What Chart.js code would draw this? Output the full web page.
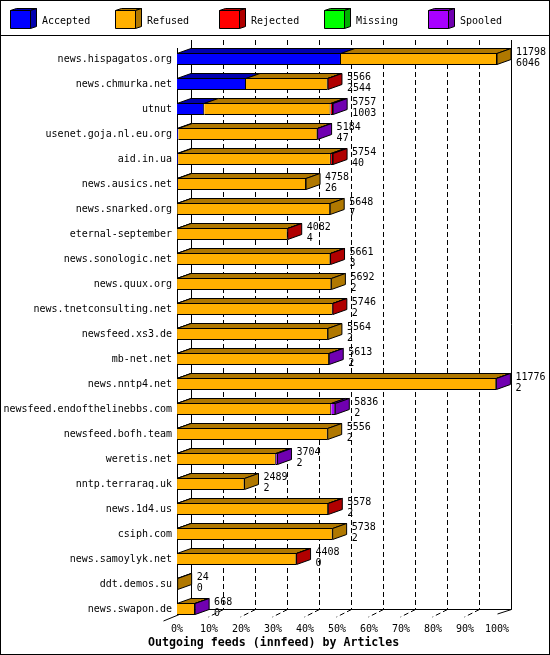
<!DOCTYPE html>
<html><head><meta charset="utf-8">
<script src="https://cdn.jsdelivr.net/npm/chart.js@4.4.1/dist/chart.umd.min.js"></script>
<style>html,body{margin:0;padding:0;background:#fff;} #wrap{width:550px;height:655px;position:relative;}</style>
</head><body><div id="wrap"><canvas id="c"></canvas></div>
<script>
const categories = ['news.hispagatos.org','news.chmurka.net','utnut','usenet.goja.nl.eu.org','aid.in.ua','news.ausics.net','news.snarked.org','eternal-september','news.sonologic.net','news.quux.org','news.tnetconsulting.net','newsfeed.xs3.de','mb-net.net','news.nntp4.net','newsfeed.endofthelinebbs.com','newsfeed.bofh.team','weretis.net','nntp.terraraq.uk','news.1d4.us','csiph.com','news.samoylyk.net','ddt.demos.su','news.swapon.de'];
const accepted = [6046,2544,1003,47,40,26,7,4,3,2,2,2,2,2,2,2,2,2,2,2,0,0,0];
const refused  = [5752,3012,4659,5132,5634,4732,5641,4073,5653,5690,5739,5562,5606,11769,5684,5554,3642,2487,5571,5736,4403,24,663];
const rejected = [0,10,90,0,80,0,0,5,5,0,5,0,0,0,0,0,0,0,5,0,5,0,0];
const missing  = [0,0,0,0,0,0,0,0,0,0,0,0,0,0,0,0,0,0,0,0,0,0,0];
const spooled  = [0,0,5,5,0,0,0,0,0,0,0,0,5,5,150,0,60,0,0,0,0,0,5];
const seriesNames = ['Accepted','Refused','Rejected','Missing','Spooled'];
const xTickPercents = [0,10,20,30,40,50,60,70,80,90,100];
const chartTitle = 'Outgoing feeds (innfeed) by Articles';

const frontColors = ['#0000ff','#ffb000','#ff0000','#00ff00','#a800ff'];
const sideColors  = ['#0000b0','#b07800','#b00000','#00b000','#7000b0'];
const seriesData = [accepted, refused, rejected, missing, spooled];
const totals = categories.map((_, i) => seriesData.reduce((s, a) => s + a[i], 0));
const maxTotal = Math.max(...totals);

const FONT = '10px "DejaVu Sans Mono", monospace';
const DX = 14, DY = 5;

function poly(ctx, pts, fill) {
  ctx.beginPath();
  ctx.moveTo(pts[0][0], pts[0][1]);
  for (let k = 1; k < pts.length; k++) ctx.lineTo(pts[k][0], pts[k][1]);
  ctx.closePath();
  if (fill) { ctx.fillStyle = fill; ctx.fill(); }
  ctx.strokeStyle = '#000'; ctx.lineWidth = 1; ctx.stroke();
}

const threeD = {
  id: 'threeD',
  beforeDraw(chart) {
    const ctx = chart.ctx, xs = chart.scales.x, ca = chart.chartArea;
    ctx.save();
    ctx.fillStyle = '#fff'; ctx.fillRect(0, 0, chart.width, chart.height);
    ctx.strokeStyle = '#000'; ctx.lineWidth = 1;
    ctx.strokeRect(0.5, 0.5, chart.width - 1, chart.height - 1);
    ctx.beginPath(); ctx.moveTo(0, 35.5); ctx.lineTo(chart.width, 35.5); ctx.stroke();
    // legend
    ctx.font = FONT; ctx.textBaseline = 'alphabetic'; ctx.textAlign = 'left';
    seriesNames.forEach((name, i) => {
      const x0 = Math.round(10 + 104.5 * i) + 0.5, y0 = 10.5, w = 20, h = 18, dx = 6, dy = 2;
      poly(ctx, [[x0, y0], [x0 + dx, y0 - dy], [x0 + w + dx, y0 - dy], [x0 + w, y0]], sideColors[i]);
      poly(ctx, [[x0 + w, y0], [x0 + w + dx, y0 - dy], [x0 + w + dx, y0 + h - dy], [x0 + w, y0 + h]], sideColors[i]);
      poly(ctx, [[x0, y0], [x0 + w, y0], [x0 + w, y0 + h], [x0, y0 + h]], frontColors[i]);
      ctx.fillStyle = '#000';
      ctx.fillText(name, x0 + 31.5, 24);
    });
    // back wall & floor
    const top = 40, floorBack = 609.5, floorFront = 615;
    xTickPercents.forEach((p, k) => {
      const fx = Math.round(xs.getPixelForValue(p / 100 * maxTotal)) + 0.5;
      const bx = fx + DX;
      ctx.strokeStyle = '#000';
      if (k === 0 || k === xTickPercents.length - 1) {
        ctx.setLineDash([]);
      } else {
        ctx.setLineDash([5, 3]);
      }
      ctx.beginPath(); ctx.moveTo(bx, top); ctx.lineTo(bx, floorBack); ctx.stroke();
      if (k > 0 && k < xTickPercents.length - 1) {
        ctx.beginPath(); ctx.moveTo(bx, floorBack); ctx.lineTo(fx - 1, floorFront + 2); ctx.stroke();
      }
    });
    ctx.setLineDash([]);
    const lx = Math.round(ca.left) + 0.5;
    const rx = Math.round(xs.getPixelForValue(maxTotal)) + 0.5;
    ctx.beginPath();
    ctx.moveTo(lx, 48); ctx.lineTo(lx, floorFront);
    ctx.moveTo(lx + DX, floorBack); ctx.lineTo(rx + DX, floorBack);
    ctx.lineTo(rx, floorFront - 1);
    ctx.moveTo(lx + DX, floorBack); ctx.lineTo(lx - DX, floorFront + 6);
    ctx.stroke();
    ctx.restore();
  },
  afterDatasetsDraw(chart) {
    const ctx = chart.ctx;
    ctx.save();
    ctx.font = FONT; ctx.textAlign = 'left'; ctx.textBaseline = 'alphabetic';
    categories.forEach((cat, i) => {
      let last = -1, endX = null, t = null, b = null, cy = null;
      seriesData.forEach((arr, j) => {
        const el = chart.getDatasetMeta(j).data[i];
        const pr = el.getProps(['x', 'y', 'base', 'height'], true);
        t = Math.round(pr.y - pr.height / 2) + 0.5; b = Math.round(pr.y + pr.height / 2) - 0.5; cy = pr.y;
        if (arr[i] > 0) {
          poly(ctx, [[pr.base, t], [pr.base + DX, t - DY], [pr.x + DX, t - DY], [pr.x, t]], sideColors[j]);
          last = j; endX = pr.x;
        }
      });
      if (last >= 0) {
        poly(ctx, [[endX, t], [endX + DX, t - DY], [endX + DX, b - DY], [endX, b]], sideColors[last]);
      }
      const lxp = (endX === null ? chart.chartArea.left : endX) + 19;
      ctx.fillStyle = '#000';
      ctx.fillText(String(totals[i]), lxp, cy - 4.5);
      ctx.fillText(String(accepted[i]), lxp, cy + 6.5);
    });
    ctx.restore();
  },
  afterDraw(chart) {
    const ctx = chart.ctx;
    ctx.save();
    ctx.font = 'bold 11.6px "DejaVu Sans Mono", monospace';
    ctx.fillStyle = '#000'; ctx.textAlign = 'left'; ctx.textBaseline = 'alphabetic';
    ctx.fillText(chartTitle, 148, 646);
    ctx.restore();
  }
};

const datasets = seriesNames.map((name, j) => ({
  label: name,
  data: seriesData[j],
  backgroundColor: frontColors[j],
  borderColor: '#000',
  borderWidth: 1,
  borderSkipped: 'start',
  inflateAmount: 0,
  barPercentage: 0.48,
  categoryPercentage: 1
}));

new Chart(document.getElementById('c'), {
  type: 'bar',
  data: { labels: categories, datasets },
  options: {
    indexAxis: 'y',
    responsive: true,
    maintainAspectRatio: false,
    animation: false,
    layout: { padding: { top: 46.5, right: 53, bottom: 0, left: 0 } },
    plugins: { legend: { display: false }, tooltip: { enabled: false }, title: { display: false } },
    scales: {
      x: {
        type: 'linear', stacked: true, min: 0, max: maxTotal,
        grid: { display: false, drawTicks: false }, border: { display: false },
        afterBuildTicks: (s) => { s.ticks = xTickPercents.map(p => ({ value: p / 100 * maxTotal })); },
        afterFit: (s) => { s.height = 33.5; },
        ticks: {
          autoSkip: false, maxRotation: 0, padding: 2, color: '#000',
          font: { family: 'DejaVu Sans Mono', size: 10 },
          callback: (v, idx) => xTickPercents[idx] + '%'
        }
      },
      y: {
        type: 'category', stacked: true, offset: true,
        grid: { display: false, drawTicks: false }, border: { display: false },
        afterFit: (s) => { s.width = 177; },
        ticks: { autoSkip: false, padding: 5, color: '#000', font: { family: 'DejaVu Sans Mono', size: 10 } }
      }
    }
  },
  plugins: [threeD]
});
</script>
</body></html>
